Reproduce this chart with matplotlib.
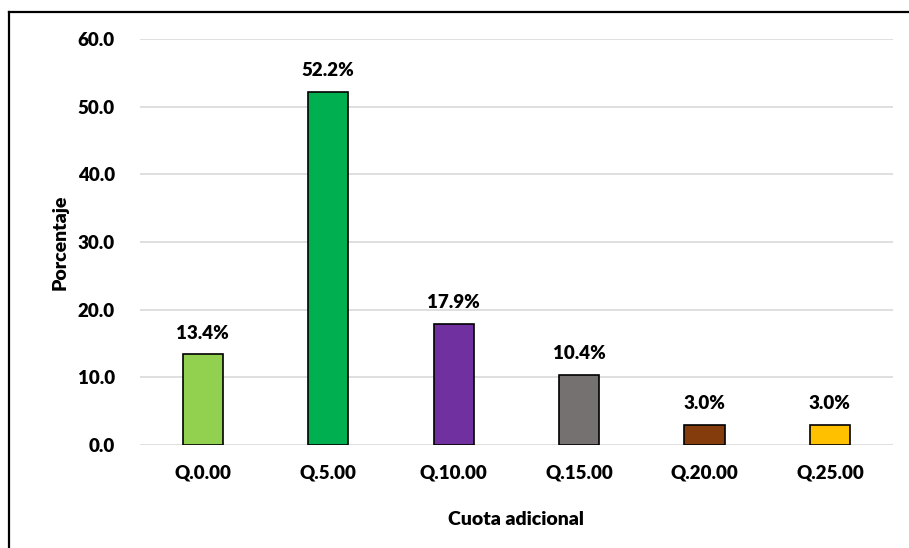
import matplotlib.pyplot as plt
from matplotlib.lines import Line2D

categories = ["Q.0.00", "Q.5.00", "Q.10.00", "Q.15.00", "Q.20.00", "Q.25.00"]
values = [13.4, 52.2, 17.9, 10.4, 3.0, 3.0]
colors = ["#92D050", "#00B050", "#7030A0", "#767171", "#843C0C", "#FFC000"]
yticks = [0, 10, 20, 30, 40, 50, 60]

plt.rcParams['font.family'] = ['Lato', 'DejaVu Sans']
weight = "heavy"

fig = plt.figure(figsize=(9.09, 5.48), dpi=100)
ax = fig.add_axes([0.154, 0.188, 0.828, 0.741])

x = range(len(categories))
bars = ax.bar(x, values, width=0.32, color=colors, edgecolor="black", linewidth=1.2, zorder=3)
for b, v in zip(bars, values):
    ax.annotate(f"{v:.1f}%", (b.get_x() + b.get_width() / 2, v), xytext=(0, 9),
                textcoords="offset points", ha="center", va="bottom",
                fontsize=13.5, fontweight=weight)

ax.set_xlim(-0.5, len(categories) - 0.5)
ax.set_ylim(0, 60)
ax.set_yticks(yticks)
ax.set_yticklabels([f"{t:.1f}" for t in yticks], fontsize=13.5, fontweight=weight)
ax.set_xticks(list(x))
ax.set_xticklabels(categories, fontsize=13.5, fontweight=weight)
ax.tick_params(length=0)
ax.tick_params(axis="y", pad=18)
ax.tick_params(axis="x", pad=14)
ax.grid(axis="y", color="#D9D9D9", linewidth=1.2, zorder=0)
for s in ax.spines.values():
    s.set_visible(False)

ax.set_ylabel("Porcentaje", fontsize=14, fontweight=weight, labelpad=7)
ax.set_xlabel("Cuota adicional", fontsize=14, fontweight=weight, labelpad=21)

# outer chart border (only left and top edges fall inside the image)
bx, by = 9 / 909, 1 - 12 / 548
fig.add_artist(Line2D([bx, bx], [0, by], transform=fig.transFigure, color="black", linewidth=1.6))
fig.add_artist(Line2D([bx, 1], [by, by], transform=fig.transFigure, color="black", linewidth=1.6))

fig.savefig("out.png", dpi=100)
